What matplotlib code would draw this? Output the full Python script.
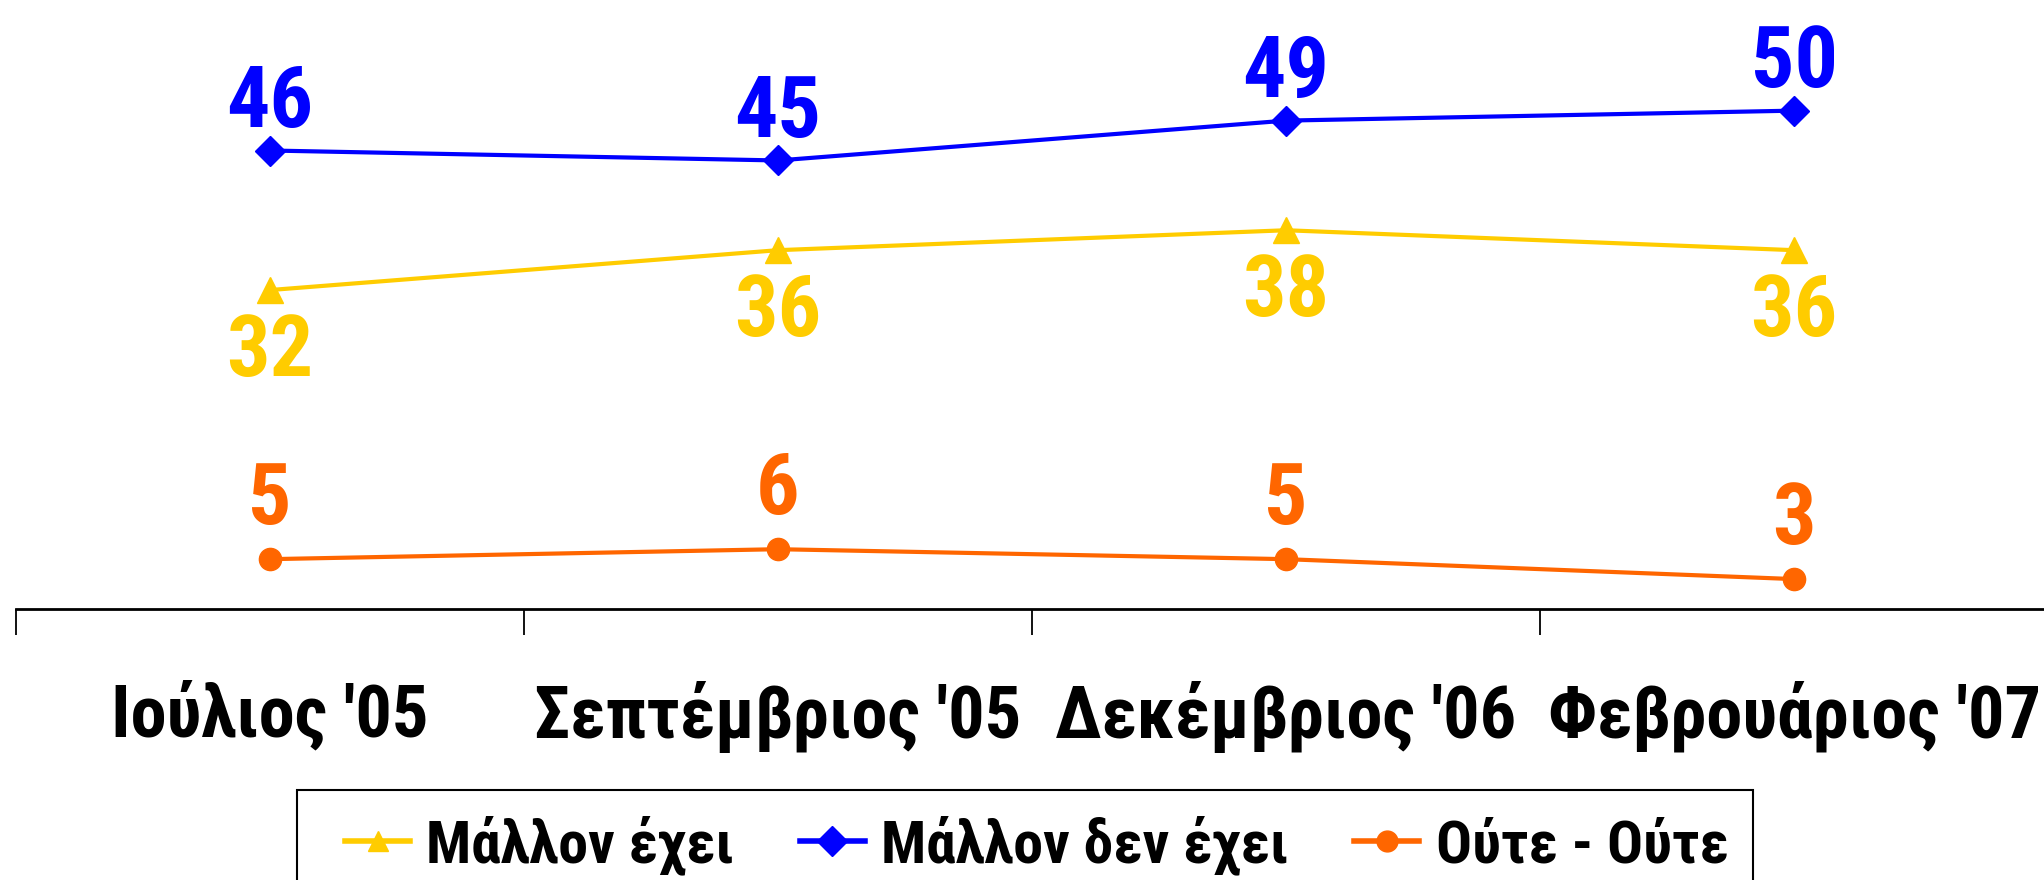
import matplotlib
matplotlib.use("Agg")
import matplotlib.pyplot as plt
from matplotlib import font_manager
from matplotlib.font_manager import FontProperties
from matplotlib.ft2font import FT2Font
from matplotlib.patches import Rectangle

categories = ["Ιούλιος '05", "Σεπτέμβριος '05", "Δεκέμβριος '06", "Φεβρουάριος '07"]
series_names = ["Μάλλον έχει", "Μάλλον δεν έχει", "Ούτε - Ούτε"]
mallon_exei = [32, 36, 38, 36]
mallon_den_exei = [46, 45, 49, 50]
oute_oute = [5, 6, 5, 3]

# pick a bold condensed font with Greek glyphs (Arial Narrow look-alike)
prefs = ['LiberationSansNarrow-Bold.ttf', 'RobotoCondensed-Bold.ttf', 'ArialNarrowBold.ttf',
         'NotoSans-CondensedBold.ttf', 'OpenSans-CondensedBold.ttf', 'DejaVuSansCondensed-Bold.ttf']
files = {f.fname.split('/')[-1]: f.fname for f in font_manager.fontManager.ttflist}
chosen = None
for p in prefs:
    if p in files:
        try:
            ft = FT2Font(files[p])
            if all(ft.get_char_index(ord(c)) != 0 for c in 'λΣέΦύ'):
                chosen = files[p]
                break
        except Exception:
            pass

def fp(size):
    if chosen:
        return FontProperties(fname=chosen, size=size)
    return FontProperties(family='DejaVu Sans', weight='bold', stretch='condensed', size=size)

W, H = 2044, 880
AX_Y = 609
fig = plt.figure(figsize=(W / 100, H / 100), dpi=100)
ax = fig.add_axes([16 / W, 1 - AX_Y / H, 1 - 16 / W + 0.002, AX_Y / H])

x = list(range(len(categories)))
yellow, blue, orange = '#FFCC00', '#0000FF', '#FF6600'

l1, = ax.plot(x, mallon_exei, color=yellow, lw=3, marker='^', ms=19, clip_on=False)
l2, = ax.plot(x, mallon_den_exei, color=blue, lw=3, marker='D', ms=15, clip_on=False)
l3, = ax.plot(x, oute_oute, color=orange, lw=3, marker='o', ms=16, clip_on=False)

for xi, v in zip(x, mallon_exei):
    ax.annotate(str(v), (xi, v), xytext=(0, -16), textcoords='offset points',
                ha='center', va='top', color=yellow, fontproperties=fp(62))
for xi, v in zip(x, mallon_den_exei):
    ax.annotate(str(v), (xi, v), xytext=(0, 17), textcoords='offset points',
                ha='center', va='baseline', color=blue, fontproperties=fp(62))
for xi, v in zip(x, oute_oute):
    ax.annotate(str(v), (xi, v), xytext=(0, 25), textcoords='offset points',
                ha='center', va='baseline', color=orange, fontproperties=fp(62))

ax.set_xlim(-0.5, 3.5)
ax.set_ylim(0, 61.1)
for s in ['left', 'top', 'right']:
    ax.spines[s].set_visible(False)
ax.spines['bottom'].set_linewidth(2)
ax.set_yticks([])
ax.set_xticks([-0.5, 0.5, 1.5, 2.5, 3.5])
ax.set_xticklabels([])
ax.tick_params(axis='x', which='major', direction='out', length=19, width=1.3)
ax.set_xticks(x, minor=True)
ax.set_xticklabels(categories, minor=True)
for t in ax.get_xticklabels(minor=True):
    t.set_fontproperties(fp(52))
ax.tick_params(axis='x', which='minor', length=0, pad=52)

leg = fig.legend([l1, l2, l3], series_names, loc='center left',
                 bbox_to_anchor=(345 / W, 1 - 845 / H), ncol=3,
                 frameon=False, handlelength=1.09, handletextpad=0.27,
                 columnspacing=1.1, borderpad=0, borderaxespad=0,
                 prop=fp(43))
for h in leg.legend_handles:
    h.set_markersize(15)
    h.set_linewidth(4)

fig.patches.append(Rectangle((297 / W, -0.05), (1753 - 297) / W, (1 - 790 / H) + 0.05,
                             transform=fig.transFigure, fill=False,
                             edgecolor='black', linewidth=1.5))

fig.savefig('out.png', dpi=100)
